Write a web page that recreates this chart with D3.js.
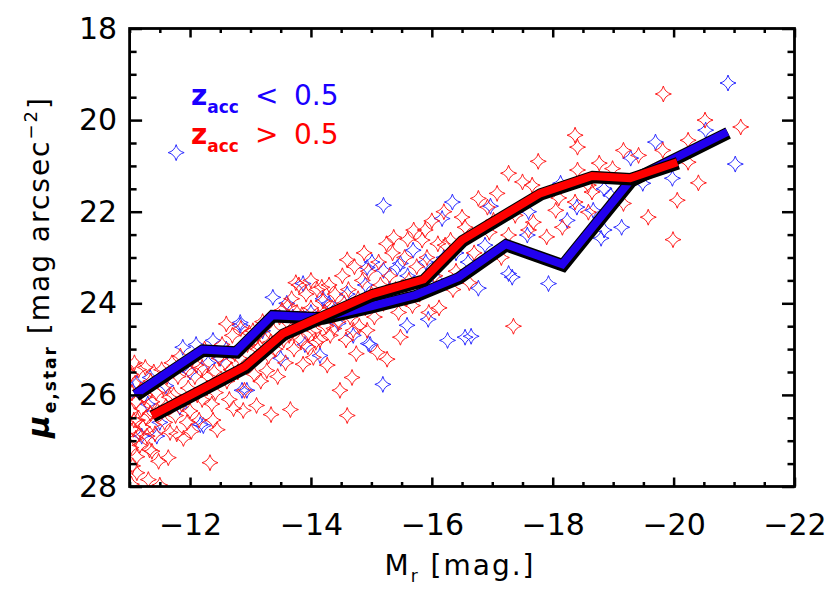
<!DOCTYPE html>
<html><head><meta charset="utf-8">
<script src="https://cdn.jsdelivr.net/npm/d3@7"></script>
<style>
body{margin:0;background:#fff}
svg{display:block}
text{font-family:"DejaVu Sans",sans-serif;fill:#000}
</style>
</head><body>
<svg id="chart" width="830" height="594"></svg>
<script>
// ---------- data ----------
const xDomain = [-11, -22];
const yDomain = [18, 28];
const xMajorTicks = [-12, -14, -16, -18, -20, -22];
const yMajorTicks = [18, 20, 22, 24, 26, 28];
const xMinorTicks = [-11, -11.5, -12.5, -13, -13.5, -14.5, -15, -15.5, -16.5, -17, -17.5, -18.5, -19, -19.5, -20.5, -21, -21.5];
const yMinorTicks = [18.5, 19, 19.5, 20.5, 21, 21.5, 22.5, 23, 23.5, 24.5, 25, 25.5, 26.5, 27, 27.5];

const blueLine = [[-11.09,25.99],[-12.20,25.01],[-12.76,25.05],[-13.36,24.26],[-14.19,24.31],[-14.98,24.07],[-15.73,23.82],[-16.44,23.43],[-17.22,22.71],[-18.16,23.15],[-19.29,21.31],[-20.89,20.26]];
const redLine = [[-11.37,26.45],[-12.91,25.38],[-13.54,24.66],[-15.01,23.80],[-15.86,23.48],[-16.50,22.62],[-17.79,21.60],[-18.65,21.22],[-19.28,21.27],[-20.06,20.92]];

const blueStars = [[-11.77,20.71],[-20.90,19.19],[-21.02,20.96],[-20.53,20.22],[-19.70,20.48],[-19.29,20.83],[-19.98,21.27],[-19.49,21.38],[-19.14,22.34],[-18.85,22.40],[-18.80,22.58],[-18.85,21.50],[-18.96,21.64],[-16.34,21.79],[-16.97,21.88],[-16.88,22.73],[-17.58,22.51],[-18.24,22.19],[-18.67,21.97],[-18.13,21.38],[-17.27,23.35],[-16.77,23.67],[-17.33,23.43],[-17.93,23.57],[-16.26,24.81],[-16.65,24.72],[-15.94,24.35],[-15.19,25.77],[-14.98,24.90],[-14.15,25.14],[-12.83,24.48],[-12.17,26.65],[-15.20,21.86],[-13.87,23.57],[-13.37,23.87],[-16.17,22.15],[-15.69,22.84],[-15.48,23.13],[-15.01,23.10],[-15.20,23.28],[-14.95,24.88],[-15.59,24.48],[-14.45,24.44],[-16.55,24.74],[-12.83,24.42],[-11.88,24.96],[-12.38,24.81],[-11.12,25.75],[-11.34,25.62],[-12.94,25.90],[-12.22,26.67],[-11.83,26.27],[-12.86,25.90],[-13.70,24.30],[-14.00,24.20],[-14.30,24.00],[-14.60,23.80],[-14.90,23.60],[-15.30,23.70],[-15.60,23.40],[-15.90,23.10],[-16.10,23.50],[-16.40,22.90],[-13.20,24.60],[-12.60,25.00],[-12.30,25.30],[-11.60,25.80],[-11.30,26.20],[-11.50,26.60],[-11.20,26.90],[-12.00,25.50],[-13.90,24.90],[-14.70,24.70],[-13.50,25.20],[-12.10,24.90],[-11.05,25.90],[-11.45,26.90],[-15.80,23.60],[-16.20,23.00],[-15.05,23.90],[-14.20,23.90],[-13.60,24.00],[-12.50,25.20],[-17.60,22.00],[-18.40,21.90],[-16.60,23.10],[-14.93,23.22],[-15.43,23.22]];

const redStars = [
[-11.02,25.55],[-11.04,25.95],[-11.03,26.35],[-11.06,26.75],[-11.02,27.15],[-11.05,27.55],[-11.03,27.95],[-11.09,25.75],[-11.11,26.15],[-11.13,26.55],[-11.10,26.95],[-11.12,27.35],[-11.12,27.70],[-11.15,25.45],[-11.18,25.90],[-11.20,26.30],[-11.22,26.70],[-11.17,27.10],[-11.25,26.05],[-11.27,26.50],[-11.29,26.90],[-11.31,27.85],[-11.33,27.20],[-11.35,25.70],[-11.37,26.15],[-11.39,26.65],[-11.37,27.23],[-11.42,26.85],[-11.44,25.95],[-11.46,26.35],[-11.48,27.45],[-11.50,27.97],[-11.08,25.30],[-11.26,25.40],[-11.40,25.50],[-11.07,26.55],[-11.16,26.85],[-11.34,26.40],
[-11.53,25.45],[-11.56,25.85],[-11.60,26.25],[-11.58,26.60],[-11.64,27.37],[-11.67,26.82],[-11.70,25.30],[-11.73,26.00],[-11.76,26.45],[-11.80,25.60],[-11.84,25.15],[-11.86,26.20],[-11.89,26.95],[-11.93,25.40],[-11.97,25.85],[-12.00,26.35],[-12.04,25.20],[-12.08,25.60],[-12.12,26.00],[-12.15,26.55],[-12.20,25.40],[-12.24,25.00],[-12.28,25.85],[-12.33,27.48],[-12.36,26.20],[-12.40,25.50],[-12.45,26.76],[-12.48,25.20],[-11.66,26.05],[-11.78,26.85],[-12.02,26.80],[-11.95,26.60],[-12.20,26.10],[-12.30,25.60],[-12.10,25.35],[-11.62,25.60],[-12.42,25.95],[-12.38,26.55],
[-12.53,24.90],[-12.58,25.30],[-12.61,25.70],[-12.65,26.10],[-12.70,24.70],[-12.74,25.10],[-12.79,25.50],[-12.84,24.55],[-12.88,26.34],[-12.90,25.90],[-12.95,24.90],[-13.00,25.30],[-13.04,24.60],[-13.10,26.23],[-13.12,25.00],[-13.17,25.70],[-13.20,24.40],[-13.24,24.80],[-13.27,25.47],[-13.30,25.15],[-13.34,26.43],[-13.38,24.60],[-13.41,25.00],[-13.45,25.60],[-13.48,24.30],[-12.60,24.45],[-12.68,25.45],[-12.82,25.20],[-12.98,24.65],[-13.06,25.55],[-13.15,24.95],[-13.33,24.85],[-12.72,26.30],
[-13.52,24.15],[-13.55,24.80],[-13.58,25.30],[-13.60,24.40],[-13.66,26.32],[-13.68,23.90],[-13.70,24.60],[-13.72,25.00],[-13.77,24.20],[-13.80,23.60],[-13.83,24.80],[-13.87,25.33],[-13.90,24.40],[-13.92,23.80],[-13.95,24.95],[-14.00,24.10],[-14.04,25.18],[-14.05,24.60],[-14.10,23.70],[-14.12,24.30],[-14.15,24.80],[-14.20,23.95],[-14.25,24.50],[-14.27,25.35],[-14.30,23.60],[-14.32,24.70],[-14.35,24.10],[-14.40,23.80],[-14.45,24.40],[-14.48,25.90],[-13.75,23.55],[-14.00,23.50],[-14.18,23.65],[-13.96,24.65],[-14.08,24.85],[-13.62,24.05],[-13.85,24.25],[-14.22,24.20],[-14.38,24.55],[-13.64,24.70],
[-14.52,23.40],[-14.55,24.00],[-14.60,26.45],[-14.62,23.70],[-14.65,24.30],[-14.68,25.62],[-14.70,24.59],[-14.72,23.20],[-14.78,23.90],[-14.80,24.50],[-14.85,23.50],[-14.90,24.10],[-14.93,24.59],[-14.95,23.30],[-15.00,23.80],[-15.05,24.30],[-15.10,25.07],[-15.12,23.10],[-15.15,23.60],[-15.20,24.00],[-15.26,25.22],[-15.30,23.40],[-15.35,22.90],[-15.37,22.56],[-15.40,23.70],[-15.45,24.20],[-15.48,24.74],[-14.60,23.05],[-14.88,22.90],[-15.25,22.70],[-14.58,24.80],[-14.75,25.10],
[-15.55,23.00],[-15.60,22.60],[-15.62,23.50],[-15.70,22.40],[-15.75,23.20],[-15.80,23.80],[-15.84,22.62],[-15.89,22.40],[-15.92,23.00],[-16.00,22.20],[-16.05,23.40],[-16.10,22.70],[-16.20,22.00],[-16.22,22.73],[-16.26,22.99],[-16.31,22.62],[-16.40,23.30],[-16.50,22.12],[-15.68,24.05],[-15.95,24.20],[-16.12,24.10],[-15.58,23.90],[-16.35,23.70],
[-16.55,22.34],[-16.77,21.71],[-16.92,21.90],[-17.02,22.19],[-17.08,21.60],[-17.27,21.16],[-17.38,22.08],[-17.50,21.35],[-17.66,21.42],[-17.68,22.23],[-17.60,22.40],[-17.76,20.90],[-17.27,22.51],[-18.05,21.97],[-18.16,22.34],[-18.37,20.33],[-18.41,20.59],[-18.41,21.09],[-18.37,21.79],[-18.59,21.42],[-18.65,21.57],[-18.59,22.01],[-18.77,20.94],[-18.99,21.06],[-19.17,20.66],[-19.42,20.77],[-19.17,21.82],[-19.58,22.12],[-19.83,19.43],[-19.82,20.66],[-19.99,22.61],[-20.06,21.75],[-20.24,20.44],[-20.24,20.92],[-20.41,21.37],[-20.52,20.00],[-21.11,20.15],[-17.35,24.50],[-16.70,22.90],[-16.95,22.45],[-17.15,23.00],[-16.62,23.55],[-17.90,22.55],[-18.10,21.70]
];

// ---------- layout ----------
const svg = d3.select("#chart");
const L = 129.6, R = 794.5, T = 28.5, B = 486.5;
const x = d3.scaleLinear().domain(xDomain).range([L, R]);
const y = d3.scaleLinear().domain(yDomain).range([T, B]);

// 4-pointed concave star symbol
const starType = {
  draw(ctx, size) {
    const r = Math.sqrt(size) / 2, k = r * 0.2;
    ctx.moveTo(0, -r);
    ctx.quadraticCurveTo(k, -k, r, 0);
    ctx.quadraticCurveTo(k, k, 0, r);
    ctx.quadraticCurveTo(-k, k, -r, 0);
    ctx.quadraticCurveTo(-k, -k, 0, -r);
    ctx.closePath();
  }
};
const starPath = d3.symbol().type(starType).size(256);

svg.append("defs").append("clipPath").attr("id", "clip")
  .append("rect").attr("x", L).attr("y", T).attr("width", R - L).attr("height", B - T);

const plot = svg.append("g").attr("clip-path", "url(#clip)");

plot.append("g").selectAll("path").data(blueStars).join("path")
  .attr("d", starPath)
  .attr("transform", d => `translate(${x(d[0])},${y(d[1])})`)
  .attr("fill", "none").attr("stroke", "#2b2bff").attr("stroke-width", 1);

plot.append("g").selectAll("path").data(redStars).join("path")
  .attr("d", starPath)
  .attr("transform", d => `translate(${x(d[0])},${y(d[1])})`)
  .attr("fill", "none").attr("stroke", "#ff1a1a").attr("stroke-width", 1);

const line = d3.line().x(d => x(d[0])).y(d => y(d[1]));
function thickLine(data, color) {
  plot.append("path").datum(data).attr("d", line)
    .attr("fill", "none").attr("stroke", "#000").attr("stroke-width", 12.5)
    .attr("stroke-linejoin", "miter").attr("stroke-linecap", "butt")
    .attr("transform", "translate(0.7,1)");
  plot.append("path").datum(data).attr("d", line)
    .attr("fill", "none").attr("stroke", color).attr("stroke-width", 8)
    .attr("stroke-linejoin", "miter").attr("stroke-linecap", "butt");
}
thickLine(blueLine, "#2200ee");
thickLine(redLine, "#ff0000");

// ---------- axes ----------
const fmt = d3.format("d");
function styleAxis(g) {
  g.select(".domain").remove();
  g.selectAll(".tick line").attr("stroke", "#000").attr("stroke-width", 2.5);
  g.selectAll("text").attr("font-size", 30).attr("font-family", "DejaVu Sans").attr("fill", "#000");
}
// minor ticks
svg.append("g").attr("transform", `translate(0,${B})`)
  .call(d3.axisBottom(x).tickValues(xMinorTicks).tickSize(-4.5).tickFormat("")).call(styleAxis);
svg.append("g").attr("transform", `translate(0,${T})`)
  .call(d3.axisTop(x).tickValues(xMinorTicks).tickSize(-4.5).tickFormat("")).call(styleAxis);
svg.append("g").attr("transform", `translate(${L},0)`)
  .call(d3.axisLeft(y).tickValues(yMinorTicks).tickSize(-7).tickFormat("")).call(styleAxis);
svg.append("g").attr("transform", `translate(${R},0)`)
  .call(d3.axisRight(y).tickValues(yMinorTicks).tickSize(-7).tickFormat("")).call(styleAxis);
// major ticks
svg.append("g").attr("transform", `translate(0,${B})`)
  .call(d3.axisBottom(x).tickValues(xMajorTicks).tickSize(-9).tickPadding(27.5).tickFormat(fmt)).call(styleAxis);
svg.append("g").attr("transform", `translate(0,${T})`)
  .call(d3.axisTop(x).tickValues(xMajorTicks).tickSize(-9).tickFormat("")).call(styleAxis);
svg.append("g").attr("transform", `translate(${L},0)`)
  .call(d3.axisLeft(y).tickValues(yMajorTicks).tickSize(-12.5).tickPadding(12.5).tickFormat(fmt)).call(styleAxis);
svg.append("g").attr("transform", `translate(${R},0)`)
  .call(d3.axisRight(y).tickValues(yMajorTicks).tickSize(-12.5).tickFormat("")).call(styleAxis);

// frame
svg.append("rect").attr("x", L).attr("y", T).attr("width", R - L).attr("height", B - T)
  .attr("fill", "none").attr("stroke", "#000").attr("stroke-width", 2.8);

// ---------- titles ----------
const xt = svg.append("text").attr("x", 460).attr("y", 575).attr("text-anchor", "middle")
  .attr("font-size", 28).attr("letter-spacing", "2px");
xt.append("tspan").text("M");
xt.append("tspan").attr("font-size", 17).attr("dy", 7).text("r");
xt.append("tspan").attr("dy", -7).text(" [mag.]");

const yt = svg.append("text").attr("transform", "translate(49,267) rotate(-90)")
  .attr("text-anchor", "middle").attr("font-size", 28).attr("letter-spacing", "2px");
yt.append("tspan").attr("font-size", 31).attr("font-weight", "bold").attr("font-style", "italic").text("μ");
yt.append("tspan").attr("font-size", 17).attr("font-weight", "bold").attr("dy", 7).text("e,star");
yt.append("tspan").attr("dy", -7).text(" [mag arcsec");
yt.append("tspan").attr("font-size", 18).attr("dy", -12).text("−2");
yt.append("tspan").attr("dy", 12).text("]");

// ---------- legend ----------
const legend = [
  {sym: "<", col: "#1a00ff", yy: 105},
  {sym: ">", col: "#ff0000", yy: 144}
];
legend.forEach(d => {
  const t = svg.append("text").attr("y", d.yy).attr("fill", d.col).style("fill", d.col).attr("font-size", 28);
  t.append("tspan").attr("x", 191).attr("font-weight", "bold").text("z");
  t.append("tspan").attr("font-size", 17).attr("font-weight", "bold").attr("dy", 8).text("acc");
  t.append("tspan").attr("x", 255).attr("dy", -8).text(d.sym);
  t.append("tspan").attr("x", 294).text("0.5");
});
</script>
</body></html>
